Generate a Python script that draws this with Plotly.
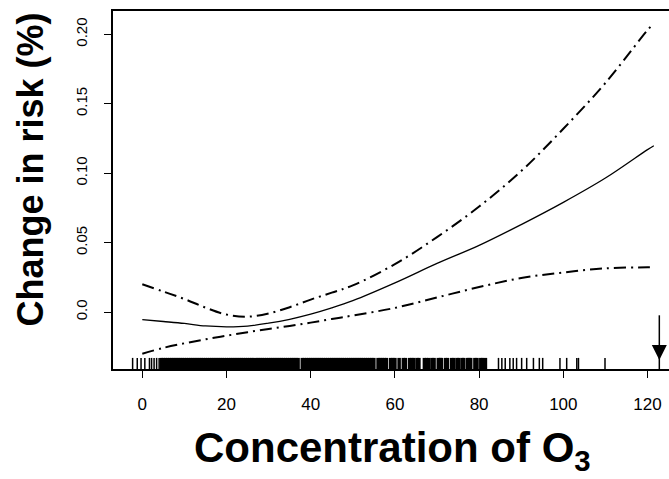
import plotly.graph_objects as go

# ---- data ----
o3 = [0, 5, 10, 15, 20, 25, 30, 35, 40, 45, 50, 60, 70, 80, 90, 100, 110, 120, 121.5]
fit = [-0.0055, -0.0068, -0.0082, -0.0100, -0.0106, -0.0101, -0.0080, -0.0052, -0.0015, 0.0030,
       0.0082, 0.0210, 0.0350, 0.0480, 0.0630, 0.0790, 0.0965, 0.1170, 0.1198]
upper = [0.0200, 0.0148, 0.0094, 0.0032, -0.0018, -0.0033, -0.0010, 0.0035, 0.0090, 0.0140,
         0.0192, 0.0345, 0.0540, 0.0760, 0.1015, 0.1320, 0.1650, 0.2030, 0.2080]
lower = [-0.0300, -0.0258, -0.0225, -0.0196, -0.0170, -0.0145, -0.0122, -0.0100, -0.0076, -0.0050,
         -0.0025, 0.0030, 0.0105, 0.0180, 0.0245, 0.0285, 0.0315, 0.0322, 0.0322]

# rug of observed O3 concentrations (dense block and the sparse ticks)
rug_dense = [4.5, 5, 5.5, 6, 6.5, 7, 7.5, 8, 8.5, 9,
             9.5, 10, 10.5, 11, 11.5, 12, 12.5, 13, 13.5, 14,
             14.5, 15, 15.5, 16, 16.5, 17, 17.5, 18, 18.5, 19,
             19.5, 20, 20.5, 21, 21.5, 22, 22.5, 23, 23.5, 24,
             24.5, 25, 25.5, 26, 26.5, 27, 27.5, 28, 28.5, 29,
             29.5, 30, 30.5, 31, 31.5, 32, 32.5, 33, 33.5, 34,
             34.5, 35, 35.5, 36, 36.5, 37, 38, 38.5, 39, 39.5,
             40, 40.5, 41, 41.5, 42, 42.5, 43, 43.5, 44, 44.5,
             45, 45.5, 46, 46.5, 47, 47.5, 48, 48.5, 49, 49.5,
             50, 50.5, 51, 51.5, 52, 52.5, 53, 53.5, 54, 54.5,
             55, 56, 56.5, 57, 57.5, 58, 59, 59.5, 60, 61,
             62, 62.5, 63.5, 64, 64.5, 65.3, 65.7, 67, 67.5, 68,
             68.8, 69.3, 70.3, 70.8, 71, 72, 72.5, 73.5, 74, 74.8,
             75.2, 76, 76.3, 77.2, 77.6, 78, 79, 79.5, 80.4, 80.8, 81.5]
rug_sparse = [-2.3, -1.2, -0.3, 0.6, 1.7, 2.2, 2.8, 3.4, 4.0,
              84.6, 85.4, 86.2, 87.3, 88.1, 88.9, 90.1, 91.3, 92.9, 94.3,
              95.1, 99.2, 100.8, 103.2, 103.6, 109.9, 122.8]

arrow_x = 122.8

x_ticks = [0, 20, 40, 60, 80, 100, 120]
y_ticks = [0.0, 0.05, 0.10, 0.15, 0.20]
y_ticktext = ["0.0", "0.05", "0.10", "0.15", "0.20"]

x_title = "Concentration of O<sub>3</sub>"
y_title = "Change in risk (%)"

FONT = "Liberation Sans, Arial, sans-serif"
band_dash = "12px,5px,2px,5px"


def rug_xy(values):
    xs, ys = [], []
    for v in values:
        xs += [v, v, None]
        ys += [0, 0.031, None]
    return xs, ys


fig = go.Figure()
fig.add_trace(go.Scatter(x=o3, y=upper, mode="lines",
                         line=dict(color="black", width=2, dash=band_dash, shape="spline"), showlegend=False))
fig.add_trace(go.Scatter(x=o3, y=fit, mode="lines",
                         line=dict(color="black", width=1.3, shape="spline"), showlegend=False))
fig.add_trace(go.Scatter(x=o3, y=lower, mode="lines",
                         line=dict(color="black", width=2, dash=band_dash, shape="spline"), showlegend=False))

# rug on an overlay axis spanning [0, 1] of the plot height
rx, ry = rug_xy(rug_dense)
fig.add_trace(go.Scatter(x=rx, y=ry, yaxis="y2", mode="lines", line=dict(color="black", width=3.5),
                         showlegend=False, hoverinfo="skip"))
rx, ry = rug_xy(rug_sparse)
fig.add_trace(go.Scatter(x=rx, y=ry, yaxis="y2", mode="lines", line=dict(color="black", width=1.5),
                         showlegend=False, hoverinfo="skip"))

# arrow marking the maximum concentration
fig.add_trace(go.Scatter(x=[arrow_x, arrow_x], y=[0.03, 0.15], yaxis="y2", mode="lines",
                         line=dict(color="black", width=1.5), showlegend=False, hoverinfo="skip"))
fig.add_trace(go.Scatter(x=[arrow_x], y=[0.025], yaxis="y2", mode="markers",
                         marker=dict(symbol="arrow-down", size=15, color="black", line=dict(width=0)),
                         showlegend=False, hoverinfo="skip"))

annotations = [
    dict(x=0.502, y=-0.149, xref="paper", yref="paper", xanchor="center", yanchor="top",
         text=x_title, showarrow=False,
         font=dict(family=FONT, size=42, color="black", weight="bold")),
    dict(x=-0.149, y=0.5576, xref="paper", yref="paper", xanchor="center", yanchor="middle",
         text=y_title, showarrow=False, textangle=-90,
         font=dict(family=FONT, size=36, color="black", weight="bold")),
]

fig.update_layout(
    width=669, height=479,
    margin=dict(l=113, r=0, t=11, b=110),
    paper_bgcolor="white", plot_bgcolor="white",
    font=dict(family=FONT, color="black"),
    annotations=annotations,
    xaxis=dict(range=[-6.96, 125.1], tickvals=x_ticks, ticks="outside", ticklen=7, tickwidth=1.3,
               tickcolor="black", showline=True, linecolor="black", linewidth=1.5, mirror=True,
               showgrid=False, zeroline=False, tickfont=dict(size=17, color="black"),
               ticklabelstandoff=12),
    yaxis=dict(range=[-0.041, 0.2168], tickvals=y_ticks, ticktext=y_ticktext, ticks="outside",
               ticklen=7, tickwidth=1.3, tickcolor="black", showline=True, linecolor="black",
               linewidth=1.5, showgrid=False, zeroline=False, tickangle=-90,
               tickfont=dict(size=15, color="black"), ticklabelstandoff=11),
    yaxis2=dict(range=[0, 1], overlaying="y", visible=False, fixedrange=True),
)

fig.write_html("out.html")
